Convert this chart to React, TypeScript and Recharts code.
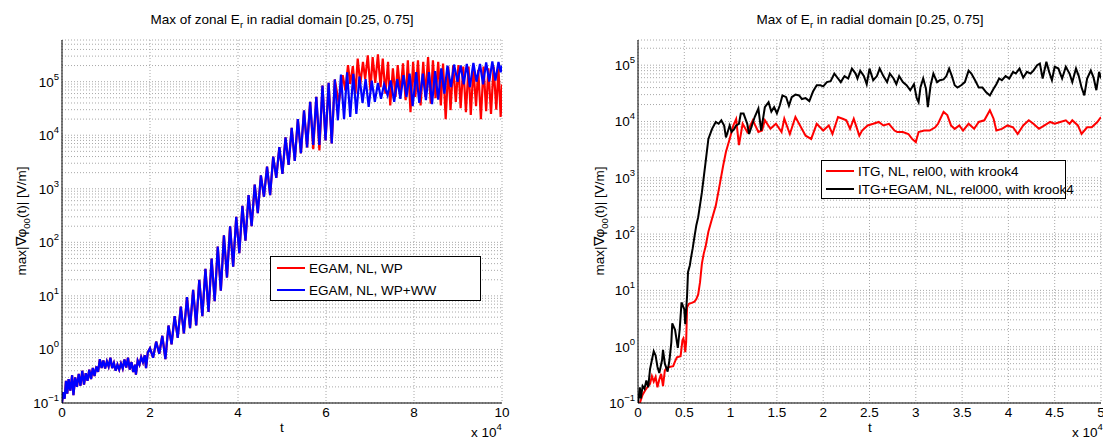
import React from "react";
import { CartesianGrid, Line, LineChart, XAxis, YAxis } from "recharts";

const FONT = '"Liberation Sans", Arial, Helvetica, sans-serif';

// t is in units of 1e4, values in V/m
// left panel, both runs coincide until ~5.7e4
const egamShared: [number, number][] = [
  [0, 0.1], [0.03, 0.16], [0.06, 0.12], [0.09, 0.26], [0.12, 0.15], [0.15, 0.28], [0.19, 0.17], [0.23, 0.33],
  [0.26, 0.14], [0.3, 0.3], [0.34, 0.2], [0.38, 0.35], [0.42, 0.21], [0.46, 0.4], [0.5, 0.22], [0.54, 0.36],
  [0.58, 0.26], [0.62, 0.42], [0.66, 0.28], [0.7, 0.45], [0.74, 0.32], [0.78, 0.48], [0.82, 0.38], [0.86, 0.66],
  [0.9, 0.45], [0.94, 0.62], [0.98, 0.44], [1.02, 0.6], [1.06, 0.48], [1.1, 0.7], [1.14, 0.45], [1.18, 0.56],
  [1.22, 0.4], [1.26, 0.52], [1.3, 0.42], [1.34, 0.55], [1.38, 0.44], [1.42, 0.65], [1.46, 0.46], [1.5, 0.7],
  [1.54, 0.42], [1.58, 0.58], [1.62, 0.38], [1.66, 0.52], [1.68, 0.34], [1.72, 0.62], [1.76, 0.52], [1.8, 0.72],
  [1.84, 0.58], [1.88, 0.78], [1.91, 0.45], [1.95, 0.88],
  [2.0, 1.05], [2.07, 0.7], [2.14, 1.4], [2.21, 0.83], [2.28, 1.8], [2.35, 0.66], [2.42, 2.8], [2.49, 1.25],
  [2.56, 4.2], [2.63, 1.65], [2.7, 6.3], [2.77, 2.0], [2.84, 9.5], [2.91, 2.5], [2.98, 13], [3.05, 2.8],
  [3.12, 20], [3.19, 4.2], [3.26, 32], [3.33, 5.0], [3.4, 50], [3.47, 8.0], [3.54, 83], [3.61, 12.5],
  [3.68, 135], [3.75, 22], [3.82, 200], [3.89, 35], [3.96, 300], [4.03, 63], [4.1, 480], [4.17, 107],
  [4.24, 760], [4.31, 200], [4.38, 1200], [4.45, 350], [4.52, 1780], [4.59, 710], [4.66, 2600], [4.73, 760],
  [4.8, 4000], [4.87, 1600], [4.94, 6000], [5.01, 1900], [5.08, 9100], [5.15, 2800], [5.22, 13800], [5.29, 3300],
  [5.36, 20000], [5.43, 4600], [5.5, 29000], [5.57, 5900], [5.64, 42000],
];

const egamWpTail: [number, number][] = [
  [5.71, 5500], [5.78, 52000], [5.85, 5200], [5.92, 85000], [5.99, 8000], [6.06, 95000], [6.13, 7000], [6.2, 110000],
  [6.29, 40000], [6.38, 132000], [6.44, 69000], [6.5, 204000], [6.55, 91000], [6.61, 195000], [6.67, 60000], [6.72, 269000],
  [6.78, 91000], [6.84, 234000], [6.89, 112000], [6.95, 309000], [7.01, 69000], [7.06, 288000], [7.12, 95000], [7.18, 324000],
  [7.24, 79000], [7.29, 269000], [7.35, 60000], [7.41, 234000], [7.46, 36000], [7.52, 178000], [7.58, 52000], [7.63, 204000],
  [7.69, 60000], [7.75, 219000], [7.81, 45000], [7.86, 251000], [7.92, 27000], [7.98, 234000], [8.03, 52000], [8.09, 251000],
  [8.15, 36000], [8.21, 234000], [8.26, 52000], [8.32, 288000], [8.38, 39000], [8.43, 251000], [8.49, 49000], [8.55, 234000],
  [8.61, 36000], [8.66, 219000], [8.72, 20000], [8.78, 191000], [8.83, 29500], [8.89, 200000], [8.95, 42000], [9.01, 204000],
  [9.06, 32000], [9.12, 191000], [9.18, 27000], [9.24, 191000], [9.29, 24000], [9.35, 178000], [9.41, 35000], [9.46, 166000],
  [9.52, 20000], [9.58, 191000], [9.64, 28000], [9.69, 178000], [9.75, 25000], [9.81, 191000], [9.87, 30000], [9.92, 178000],
  [9.97, 22000], [10, 89000],
];

const egamWwTail: [number, number][] = [
  [5.71, 6600], [5.78, 52000], [5.85, 6600], [5.92, 85000], [5.99, 8000], [6.06, 95000], [6.13, 7000], [6.2, 110000],
  [6.27, 19000], [6.34, 135000], [6.41, 20000], [6.48, 150000], [6.55, 22000], [6.62, 140000], [6.69, 25000], [6.76, 125000],
  [6.83, 40000], [6.9, 112000], [6.97, 34000], [7.04, 105000], [7.11, 42000], [7.18, 95000], [7.25, 48000], [7.32, 89000],
  [7.4, 56000], [7.47, 105000], [7.55, 42000], [7.62, 112000], [7.69, 48000], [7.76, 132000], [7.83, 52000], [7.9, 141000],
  [7.97, 35000], [8.05, 151000], [8.12, 40000], [8.2, 141000], [8.27, 45000], [8.34, 151000], [8.41, 38000], [8.48, 158000],
  [8.55, 46000], [8.62, 178000], [8.69, 60000], [8.76, 200000], [8.84, 79000], [8.91, 209000], [8.99, 100000], [9.06, 200000],
  [9.13, 89000], [9.2, 214000], [9.27, 79000], [9.35, 224000], [9.42, 100000], [9.5, 214000], [9.57, 89000], [9.64, 229000],
  [9.71, 100000], [9.78, 240000], [9.85, 105000], [9.92, 234000], [9.97, 150000], [10, 200000],
];

// right panel
const itgRun: [number, number][] = [
  [0, 0.1], [0.02, 0.1], [0.05, 0.14], [0.08, 0.17], [0.11, 0.2], [0.13, 0.22], [0.15, 0.3], [0.17, 0.24],
  [0.19, 0.29], [0.21, 0.19], [0.23, 0.26], [0.25, 0.33], [0.27, 0.2], [0.29, 0.38], [0.31, 0.42], [0.35, 0.44],
  [0.38, 0.45], [0.4, 0.55], [0.42, 0.65], [0.46, 0.68], [0.48, 1.3], [0.49, 1.4], [0.5, 1.2], [0.51, 0.8],
  [0.52, 1.2], [0.53, 5.0], [0.55, 5.8], [0.58, 6.0], [0.61, 6.3], [0.63, 7.0], [0.65, 8.5], [0.67, 14],
  [0.69, 30], [0.71, 45], [0.73, 60], [0.76, 110], [0.8, 190], [0.84, 320], [0.88, 720], [0.92, 1650],
  [0.95, 2900], [0.99, 4900], [1.03, 8500], [1.06, 11000], [1.09, 3800], [1.13, 9100], [1.18, 6500], [1.24, 10500],
  [1.3, 6500], [1.34, 6900], [1.37, 10500], [1.43, 7400], [1.49, 9100], [1.55, 6500], [1.58, 11200], [1.64, 6000],
  [1.7, 12000], [1.76, 7900], [1.81, 5600], [1.87, 4900], [1.93, 9100], [2.0, 6900], [2.06, 8500], [2.1, 6000],
  [2.16, 12000], [2.21, 11200], [2.25, 10500], [2.29, 7400], [2.33, 11200], [2.39, 5600], [2.42, 6900], [2.48, 8500],
  [2.54, 9100], [2.6, 9800], [2.65, 8500], [2.71, 9100], [2.77, 6900], [2.8, 6500], [2.86, 6500], [2.92, 6000],
  [2.96, 4900], [3.0, 4300], [3.03, 6500], [3.09, 6900], [3.15, 6900], [3.21, 7900], [3.24, 9100], [3.3, 14800],
  [3.34, 13000], [3.38, 8500], [3.42, 7400], [3.47, 8500], [3.51, 6900], [3.57, 9100], [3.63, 7400], [3.68, 9800],
  [3.74, 10500], [3.8, 15800], [3.84, 11200], [3.87, 6900], [3.93, 7400], [3.99, 8500], [4.05, 7900], [4.1, 6000],
  [4.16, 8500], [4.22, 10500], [4.27, 9100], [4.33, 7400], [4.39, 8500], [4.45, 9800], [4.5, 9100], [4.56, 9800],
  [4.62, 10500], [4.66, 9100], [4.69, 10500], [4.75, 8500], [4.79, 6000], [4.85, 7900], [4.9, 7900], [4.96, 9800],
  [5.0, 12000],
];

const itgEgamRun: [number, number][] = [
  [0, 0.1], [0.02, 0.19], [0.03, 0.12], [0.05, 0.2], [0.07, 0.18], [0.09, 0.25], [0.11, 0.19], [0.13, 0.4],
  [0.15, 0.58], [0.17, 0.83], [0.19, 0.7], [0.21, 0.44], [0.23, 0.34], [0.26, 0.58], [0.27, 0.88], [0.29, 0.5],
  [0.32, 0.36], [0.34, 0.58], [0.36, 1.2], [0.37, 2.6], [0.4, 2.0], [0.43, 0.95], [0.45, 2.0], [0.47, 6.1],
  [0.5, 4.6], [0.51, 2.5], [0.53, 8.0], [0.54, 21], [0.56, 28], [0.57, 36], [0.59, 55], [0.61, 90],
  [0.63, 144], [0.65, 200], [0.69, 550], [0.73, 1900], [0.76, 4900], [0.8, 7400], [0.84, 9800], [0.87, 9100],
  [0.9, 10500], [0.93, 8500], [0.95, 5200], [0.99, 8500], [1.01, 6500], [1.04, 7400], [1.06, 8500], [1.09, 9100],
  [1.11, 13800], [1.14, 13800], [1.18, 9100], [1.2, 6000], [1.26, 12000], [1.3, 17000], [1.33, 6900], [1.37, 18000],
  [1.41, 22000], [1.44, 15000], [1.47, 18000], [1.5, 14000], [1.53, 19000], [1.56, 29000], [1.6, 27000], [1.63, 19000],
  [1.66, 27000], [1.7, 30000], [1.74, 29000], [1.77, 25000], [1.81, 26000], [1.85, 23000], [1.89, 34000], [1.93, 44000],
  [1.97, 44000], [2.0, 42000], [2.04, 50000], [2.08, 52000], [2.12, 71000], [2.16, 58000], [2.19, 50000], [2.23, 64000],
  [2.27, 58000], [2.31, 87000], [2.35, 71000], [2.37, 58000], [2.4, 80000], [2.44, 64000], [2.47, 46000], [2.5, 87000],
  [2.54, 54000], [2.58, 64000], [2.61, 87000], [2.65, 64000], [2.69, 50000], [2.72, 71000], [2.76, 58000], [2.79, 46000],
  [2.82, 64000], [2.86, 50000], [2.9, 44000], [2.94, 36000], [2.98, 46000], [3.01, 26000], [3.03, 22000], [3.05, 40000],
  [3.08, 58000], [3.11, 38000], [3.13, 18000], [3.16, 44000], [3.19, 71000], [3.23, 50000], [3.26, 54000], [3.3, 56000],
  [3.33, 64000], [3.36, 87000], [3.39, 64000], [3.42, 44000], [3.45, 40000], [3.49, 44000], [3.53, 50000], [3.57, 80000],
  [3.6, 71000], [3.64, 54000], [3.68, 40000], [3.72, 40000], [3.76, 33000], [3.8, 29000], [3.84, 38000], [3.87, 46000],
  [3.9, 58000], [3.93, 54000], [3.97, 64000], [4.01, 58000], [4.05, 76000], [4.08, 71000], [4.12, 87000], [4.16, 60000],
  [4.2, 76000], [4.24, 71000], [4.27, 80000], [4.31, 100000], [4.34, 107000], [4.37, 58000], [4.41, 115000], [4.44, 76000],
  [4.47, 54000], [4.5, 94000], [4.54, 87000], [4.58, 58000], [4.62, 94000], [4.66, 71000], [4.69, 50000], [4.73, 87000],
  [4.76, 64000], [4.79, 40000], [4.82, 29000], [4.85, 58000], [4.89, 80000], [4.92, 60000], [4.95, 36000], [4.98, 76000],
  [5.0, 58000],
];

const decades = [0.1, 1, 10, 100, 1000, 10000, 100000];
const decadeExp = ["\u22121", "0", "1", "2", "3", "4", "5"];
const leftXTicks = [0, 2, 4, 6, 8, 10];
const rightXTicks = [0, 0.5, 1, 1.5, 2, 2.5, 3, 3.5, 4, 4.5, 5];
const leftYMax = 6e5;
const rightYMax = 2.8e5;

const toRows = (pts: [number, number][]) => pts.map(([t, v]) => ({ t, v }));

// minor log grid (1..9 x each decade), labels only on decades
const logTicks = (max: number) =>
  decades.flatMap((d) => [1, 2, 3, 4, 5, 6, 7, 8, 9].map((k) => k * d)).filter((v) => v <= max);

const wpData = toRows([...egamShared, ...egamWpTail]);
const wwData = toRows([...egamShared, ...egamWwTail]);
const itgData = toRows(itgRun);
const itgEgamData = toRows(itgEgamRun);

function YTick(props: any) {
  const { x, y, payload } = props;
  const i = decades.indexOf(payload.value);
  if (i < 0) return <g />;
  return (
    <text x={x} y={y} textAnchor="end" fontFamily={FONT} fontSize={13.5} fill="#000">
      <tspan dy={5}>10</tspan>
      <tspan dy={-7} fontSize={9.5}>{decadeExp[i]}</tspan>
    </text>
  );
}

function XTick(props: any) {
  const { x, y, payload } = props;
  return (
    <text x={x} y={y} dy={8} textAnchor="middle" fontFamily={FONT} fontSize={13.5} fill="#000">
      {payload.value}
    </text>
  );
}

const gridStroke = "#a8a8a8";

function Panel({
  left,
  width,
  margin,
  xMax,
  xTicks,
  yMax,
  children,
}: {
  left: number;
  width: number;
  margin: { top: number; right: number; bottom: number; left: number };
  xMax: number;
  xTicks: number[];
  yMax: number;
  children: React.ReactNode;
}) {
  return (
    <div style={{ position: "absolute", left, top: 0 }}>
      <LineChart width={width} height={439} margin={margin}>
        <CartesianGrid stroke={gridStroke} strokeDasharray="1 2" />
        <XAxis
          type="number"
          dataKey="t"
          domain={[0, xMax]}
          ticks={xTicks}
          interval={0}
          allowDataOverflow
          height={30}
          tickLine={false}
          tickSize={4}
          tickMargin={2}
          tick={XTick}
          axisLine={{ stroke: "#000" }}
        />
        <XAxis
          xAxisId="top"
          orientation="top"
          type="number"
          domain={[0, 1]}
          height={0}
          tick={false}
          tickLine={false}
          axisLine={{ stroke: "#000" }}
        />
        <YAxis
          type="number"
          scale="log"
          domain={[0.1, yMax]}
          ticks={logTicks(yMax)}
          interval={0}
          allowDataOverflow
          width={50}
          tickLine={false}
          tickSize={0}
          tickMargin={3}
          tick={YTick}
          axisLine={{ stroke: "#000" }}
        />
        <YAxis
          yAxisId="right"
          orientation="right"
          type="number"
          domain={[0, 1]}
          width={0}
          tick={false}
          tickLine={false}
          axisLine={{ stroke: "#000" }}
        />
        {children}
      </LineChart>
    </div>
  );
}

function YLabel({ x, y }: { x: number; y: number }) {
  return (
    <text
      x={x}
      y={y}
      transform={`rotate(-90 ${x} ${y})`}
      textAnchor="middle"
      fontFamily={FONT}
      fontSize={13.5}
      fill="#000"
    >
      max|∇φ
      <tspan dy={4} fontSize={9.5}>00</tspan>
      <tspan dy={-4}>(t)| [V/m]</tspan>
    </text>
  );
}

function Overlay() {
  const txt = { fontFamily: FONT, fontSize: 13.5, fill: "#000" };
  return (
    <svg
      width={1103}
      height={439}
      style={{ position: "absolute", left: 0, top: 0, pointerEvents: "none" }}
    >
      <text x={282} y={24} textAnchor="middle" {...txt}>
        Max of zonal E<tspan dy={4} fontSize={9.5}>r</tspan>
        <tspan dy={-4}> in radial domain [0.25, 0.75]</tspan>
      </text>
      <text x={870} y={24} textAnchor="middle" {...txt}>
        Max of E<tspan dy={4} fontSize={9.5}>r</tspan>
        <tspan dy={-4}> in radial domain [0.25, 0.75]</tspan>
      </text>

      <YLabel x={26} y={221} />
      <YLabel x={604} y={221} />

      <text x={282} y={432} textAnchor="middle" {...txt}>t</text>
      <text x={870} y={432} textAnchor="middle" {...txt}>t</text>

      <text x={471} y={437} {...txt}>
        x 10<tspan dy={-7} fontSize={9.5}>4</tspan>
      </text>
      <text x={1072} y={437} {...txt}>
        x 10<tspan dy={-7} fontSize={9.5}>4</tspan>
      </text>

      {/* left legend */}
      <rect x={270.5} y={256.5} width={210} height={44} fill="#fff" stroke="#000" />
      <line x1={277} x2={305} y1={268} y2={268} stroke="#ff0000" strokeWidth={2} />
      <text x={309} y={272.5} {...txt}>EGAM, NL, WP</text>
      <line x1={277} x2={305} y1={290} y2={290} stroke="#0000ff" strokeWidth={2} />
      <text x={309} y={294.5} {...txt}>EGAM, NL, WP+WW</text>

      {/* right legend */}
      <rect x={821.5} y={160.5} width={244} height={38} fill="#fff" stroke="#000" />
      <line x1={826} x2={854} y1={171} y2={171} stroke="#ff0000" strokeWidth={2} />
      <text x={858} y={175.5} {...txt}>ITG, NL, rel00, with krook4</text>
      <line x1={826} x2={854} y1={189} y2={189} stroke="#000" strokeWidth={2} />
      <text x={858} y={193.5} {...txt}>ITG+EGAM, NL, rel000, with krook4</text>
    </svg>
  );
}

export default function App() {
  return (
    <div
      style={{
        position: "absolute",
        left: 0,
        top: 0,
        width: 1103,
        height: 439,
        background: "#fff",
        overflow: "hidden",
      }}
    >
      <Panel
        left={0}
        width={550}
        margin={{ top: 40, right: 48, bottom: 6, left: 12 }}
        xMax={10}
        xTicks={leftXTicks}
        yMax={leftYMax}
      >
        <Line data={wpData} dataKey="v" type="linear" stroke="#ff0000" strokeWidth={2.2} dot={false} isAnimationActive={false} />
        <Line data={wwData} dataKey="v" type="linear" stroke="#0000ff" strokeWidth={2.2} dot={false} isAnimationActive={false} />
      </Panel>
      <Panel
        left={550}
        width={553}
        margin={{ top: 40, right: 2, bottom: 6, left: 38 }}
        xMax={5}
        xTicks={rightXTicks}
        yMax={rightYMax}
      >
        <Line data={itgData} dataKey="v" type="linear" stroke="#ff0000" strokeWidth={2} dot={false} isAnimationActive={false} />
        <Line data={itgEgamData} dataKey="v" type="linear" stroke="#000" strokeWidth={2} dot={false} isAnimationActive={false} />
      </Panel>
      <Overlay />
    </div>
  );
}
